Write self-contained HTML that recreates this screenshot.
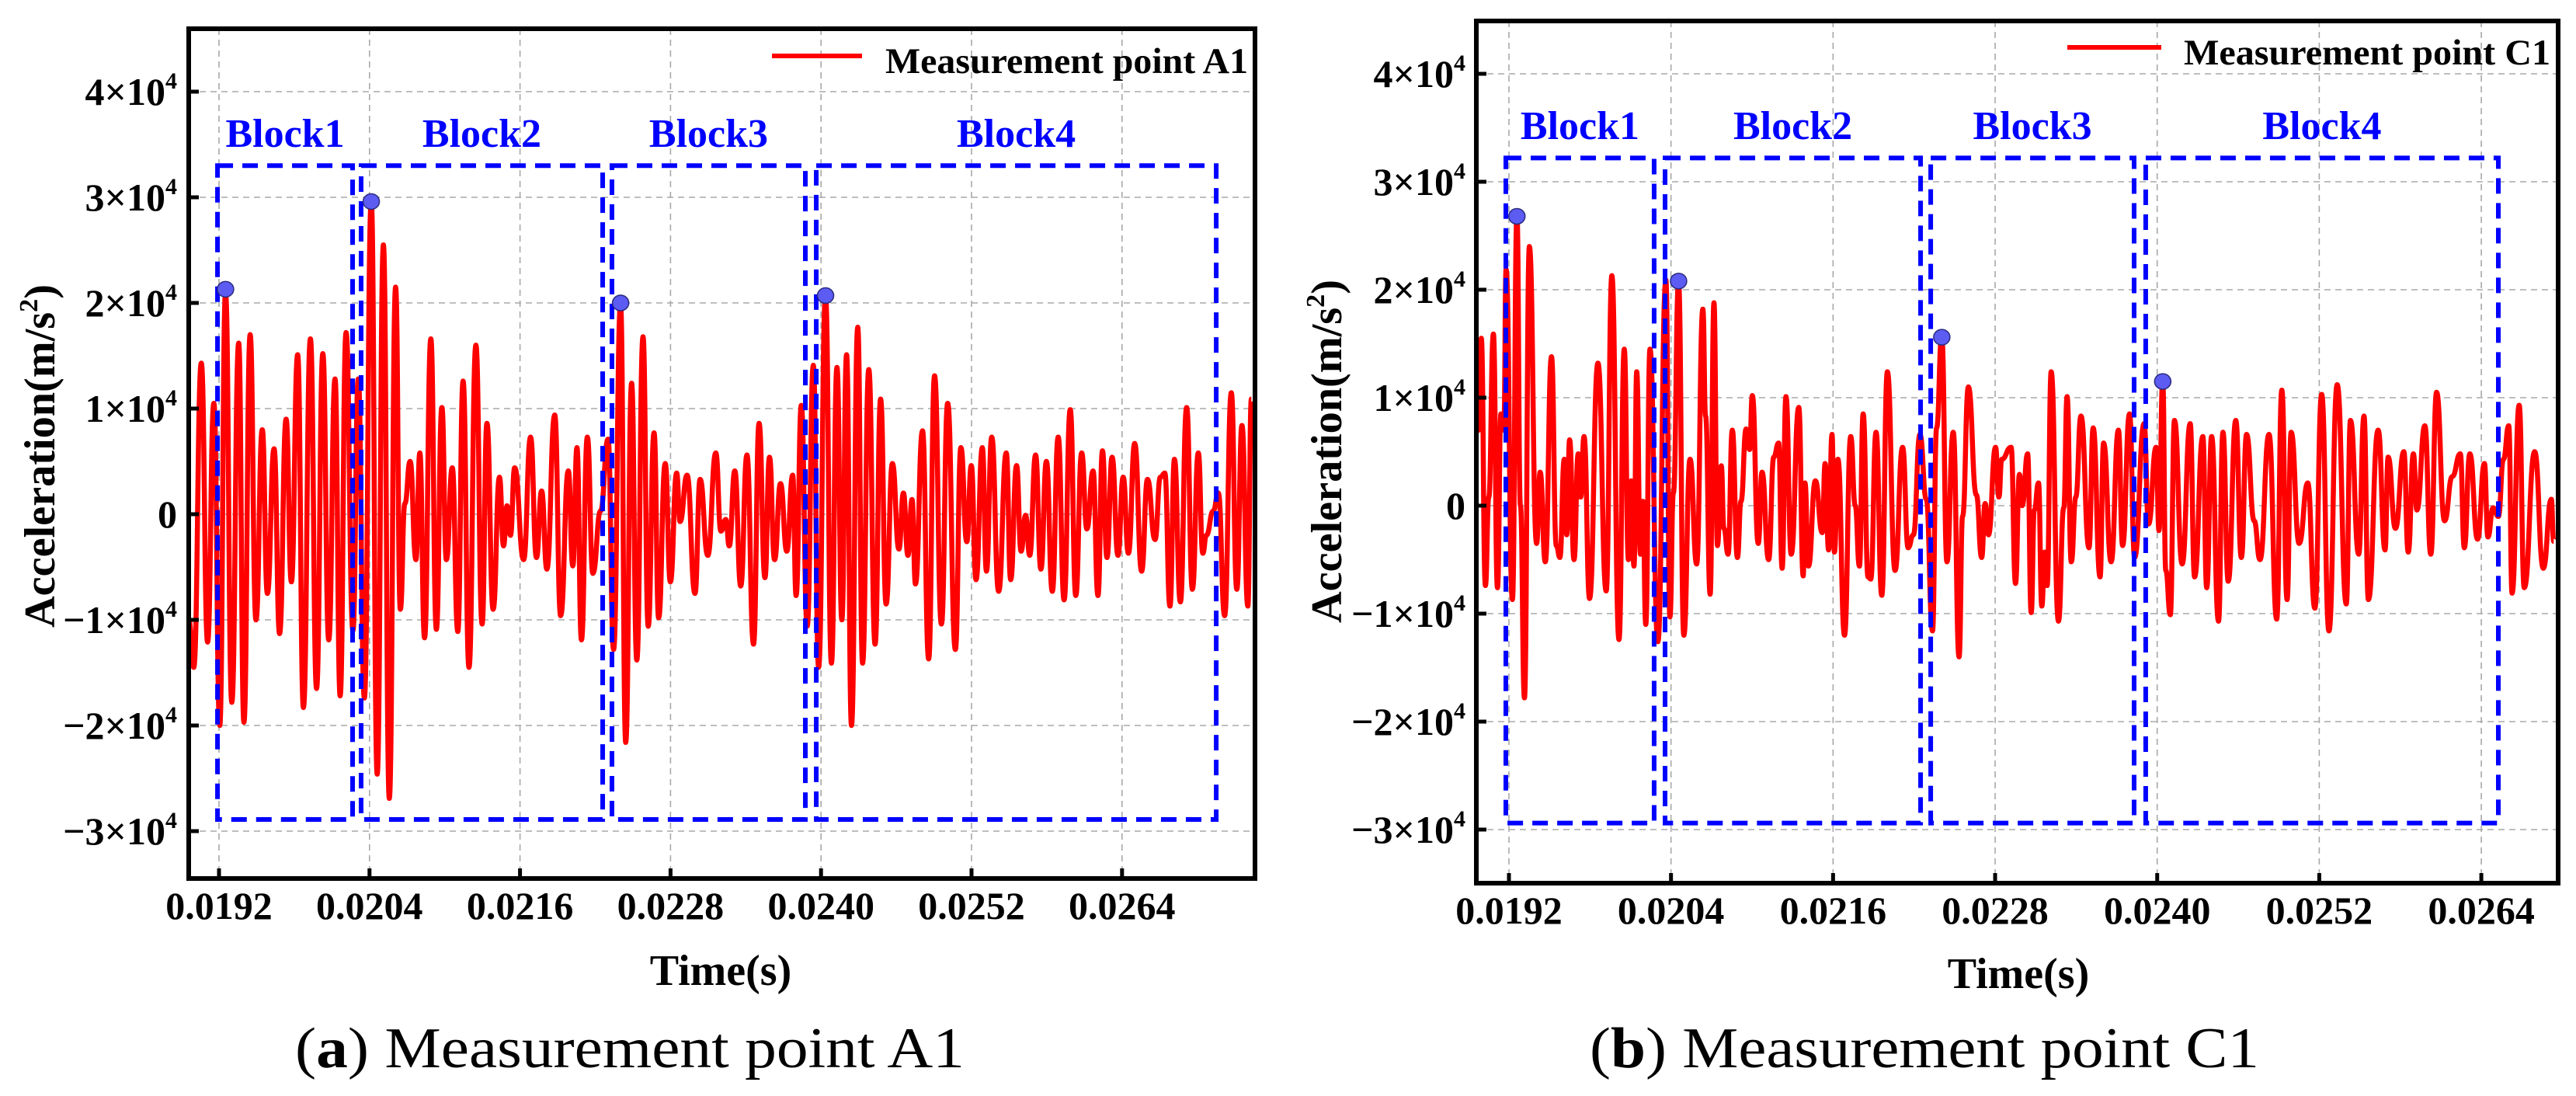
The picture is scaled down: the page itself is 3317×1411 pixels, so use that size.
<!DOCTYPE html>
<html><head><meta charset="utf-8"><style>
html,body{margin:0;padding:0;background:#fff;}
svg{display:block;}
</style></head><body>
<svg id="fig" xmlns="http://www.w3.org/2000/svg" width="3317" height="1411" viewBox="0 0 3317 1411" font-family="'Liberation Serif', serif">
<rect x="0" y="0" width="3317" height="1411" fill="#fff"/>
</svg>
<script>
// ---- shared axis data ----
const xTicks = [19.2, 20.4, 21.6, 22.8, 24.0, 25.2, 26.4];            // ms
const xTickLabels = ["0.0192","0.0204","0.0216","0.0228","0.0240","0.0252","0.0264"];
const yTicks = [4, 3, 2, 1, 0, -1, -2, -3];                             // x1e4 m/s^2
const yTickLabels = ["4","3","2","1","0","\u22121","\u22122","\u22123"];
const blockNames = ["Block1","Block2","Block3","Block4"];

// ---- Measurement point A1 ----
const timesA = [18.96,18.999,19.059,19.109,19.159,19.206,19.252,19.302,19.357,19.399,19.448,19.495,19.545,19.586,19.639,19.683,19.735,19.777,19.827,19.873,19.929,19.978,20.028,20.075,20.125,20.166,20.213,20.268,20.310,20.359,20.414,20.461,20.511,20.558,20.608,20.646,20.682,20.724,20.770,20.801,20.839,20.889,20.933,20.977,21.013,21.060,21.104,21.146,21.193,21.248,21.298,21.336,21.386,21.436,21.469,21.496,21.524,21.557,21.629,21.684,21.731,21.772,21.814,21.877,21.924,21.985,22.021,22.054,22.090,22.137,22.181,22.242,22.302,22.346,22.402,22.443,22.490,22.531,22.581,22.622,22.669,22.705,22.758,22.799,22.849,22.876,22.932,22.995,23.036,23.097,23.161,23.202,23.241,23.268,23.313,23.360,23.409,23.462,23.506,23.553,23.589,23.630,23.677,23.727,23.774,23.801,23.843,23.890,23.939,23.981,24.036,24.083,24.127,24.166,24.204,24.243,24.293,24.331,24.381,24.431,24.475,24.519,24.569,24.621,24.657,24.693,24.726,24.753,24.809,24.858,24.905,24.960,25.010,25.071,25.115,25.162,25.198,25.236,25.286,25.319,25.361,25.416,25.477,25.512,25.559,25.595,25.631,25.664,25.711,25.753,25.797,25.844,25.891,25.938,25.987,26.031,26.078,26.120,26.169,26.208,26.244,26.280,26.321,26.368,26.409,26.451,26.501,26.556,26.603,26.663,26.705,26.741,26.782,26.818,26.865,26.915,26.961,27.008,27.044,27.072,27.127,27.168,27.218,27.271,27.315,27.356,27.403,27.431];
const valuesA = [-1.0,-1.45,1.43,-1.21,1.05,-2.0,2.1,-1.78,1.62,-1.97,1.7,-1.0,0.8,-0.75,0.62,-1.13,0.9,-0.64,1.51,-1.83,1.66,-1.65,1.52,-1.19,1.28,-1.72,1.72,-1.1,1.28,-1.74,2.96,-2.46,2.55,-2.69,2.15,-0.9,0.1,0.5,-0.43,0.58,-1.17,1.66,-1.09,1.01,-0.43,0.44,-1.11,1.26,-1.45,1.6,-1.04,0.86,-0.9,0.35,-0.3,0.08,-0.2,0.44,-0.43,0.73,-0.41,0.22,-0.52,0.94,-0.96,0.41,-0.49,0.63,-1.19,0.73,-0.56,0.03,0.71,-1.28,1.99,-2.16,1.24,-1.38,1.68,-1.06,0.77,-0.98,0.48,-0.64,0.39,-0.07,0.37,-0.75,0.33,-0.39,0.58,-0.16,-0.05,-0.3,0.41,-0.68,0.56,-1.23,0.86,-0.6,0.54,-0.43,0.29,-0.35,0.37,-0.77,1.03,-1.06,1.41,-1.45,2.07,-1.41,1.39,-1.0,1.51,-2.0,1.77,-1.41,1.37,-1.23,1.09,-0.85,0.48,-0.33,0.2,-0.39,0.14,-0.66,0.79,-1.37,1.31,-1.04,1.05,-1.28,0.63,-0.26,0.46,-0.62,0.63,-0.54,0.73,-0.73,0.58,-0.62,0.46,-0.35,-0.01,-0.39,0.56,-0.52,0.5,-0.73,0.73,-0.81,0.99,-0.77,0.58,-0.14,0.41,-0.77,0.6,-0.41,0.54,-0.39,0.35,-0.37,0.67,-0.54,0.33,-0.24,0.35,0.39,-0.87,0.52,-0.83,1.01,-0.71,0.58,-0.37,-0.2,0.03,0.2,-0.96,1.15,-0.71,0.84,-0.87,1.09];
const peakTimesA = [19.252, 20.414, 22.402, 24.036];
const peakValuesA = [2.13, 2.96, 2.0, 2.07];
const blockStartA = [19.188, 20.333, 22.333, 23.962];
const blockEndA   = [20.265, 22.259, 23.875, 27.151];
const blockTopA = 3.30, blockBottomA = -2.89;

// ---- Measurement point C1 ----
const timesC = [18.96,18.977,18.995,19.026,19.051,19.085,19.115,19.141,19.162,19.179,19.226,19.259,19.285,19.315,19.351,19.405,19.431,19.469,19.515,19.551,19.577,19.610,19.628,19.649,19.682,19.713,19.731,19.756,19.797,19.859,19.920,19.962,20.015,20.054,20.085,20.105,20.126,20.146,20.174,20.192,20.213,20.244,20.303,20.362,20.392,20.418,20.456,20.495,20.541,20.590,20.636,20.656,20.690,20.718,20.744,20.772,20.792,20.823,20.854,20.892,20.918,20.956,20.982,21.002,21.046,21.074,21.123,21.161,21.197,21.223,21.251,21.290,21.346,21.379,21.392,21.418,21.469,21.520,21.541,21.567,21.592,21.610,21.636,21.685,21.731,21.764,21.795,21.823,21.859,21.879,21.918,21.961,22.002,22.059,22.115,22.156,22.195,22.243,22.290,22.336,22.367,22.405,22.443,22.490,22.533,22.559,22.602,22.661,22.700,22.726,22.751,22.803,22.828,22.849,22.918,22.951,22.980,23.000,23.041,23.067,23.090,23.121,23.146,23.167,23.185,23.215,23.269,23.308,23.333,23.364,23.397,23.436,23.495,23.526,23.577,23.603,23.659,23.713,23.744,23.795,23.833,23.903,23.936,23.992,24.013,24.041,24.064,24.097,24.128,24.185,24.244,24.277,24.338,24.367,24.403,24.454,24.487,24.526,24.582,24.623,24.662,24.718,24.761,24.828,24.885,24.923,24.962,24.992,25.051,25.115,25.167,25.218,25.272,25.333,25.400,25.431,25.492,25.531,25.564,25.636,25.687,25.710,25.764,25.826,25.859,25.897,25.923,25.982,26.026,26.069,26.128,26.185,26.244,26.274,26.315,26.372,26.423,26.449,26.487,26.526,26.564,26.603,26.628,26.680,26.718,26.795,26.859,26.918,26.936];
const valuesC = [0.7,0.7,1.55,-0.74,0.08,1.59,-0.76,0.85,0.7,2.19,-0.87,2.69,0,-1.78,2.4,-0.35,0.31,-0.52,1.38,-0.37,-0.48,0.43,-0.27,0.61,-0.5,0.48,0.08,0.64,-0.86,1.32,-0.79,2.13,-1.24,1.45,-0.5,0.23,-0.56,1.24,-0.45,0.04,-1.1,1.45,-1.26,2.09,-1.03,0.12,2.07,-1.2,0.43,-0.54,1.82,0.83,-0.82,1.88,-0.37,0.37,-0.21,-0.45,0.7,-0.48,0.04,0.71,0.52,1.02,-0.35,0.31,-0.5,0.45,0.58,-0.58,1.01,-0.45,0.91,-0.65,0.21,-0.56,0.23,-0.25,0.39,-0.41,0.66,-0.43,0.43,-1.2,0.64,0,-0.56,0.85,-0.66,-0.68,0.68,-0.83,1.24,-0.6,0.54,-0.39,-0.27,0.66,0.06,-1.16,0.72,1.57,-0.52,0.68,-1.4,-0.1,1.1,0.1,-0.48,0.02,-0.27,0.54,0.08,0.43,0.54,-0.72,0.29,0,0.48,-0.99,-0.04,0.21,-0.93,-0.43,-0.74,1.24,-1.07,-0.02,1.01,-0.52,0.08,0.83,-0.39,0.72,-0.66,0.58,-0.52,0.7,-0.37,0.85,-0.48,0.76,-0.17,0.54,-0.23,1.16,-0.6,-1.01,0.79,-0.54,0.76,-0.66,0.64,-0.76,0.64,-1.07,0.68,-0.7,0.79,-0.48,0.66,-0.14,-0.5,0.66,-1.05,1.07,-0.87,0.68,-0.35,0.21,-0.95,1.03,-1.16,1.12,-0.91,0.79,-0.45,0.83,-0.87,0.7,-0.41,0.45,-0.21,0.5,-0.43,0.48,-0.04,0.74,-0.45,1.05,-0.14,0.27,0.48,-0.39,0.48,-0.31,0.39,-0.29,-0.02,-0.1,0.43,0.74,-0.81,0.93,-0.76,0.5,-0.58,0.06,-0.33];
const peakTimesC = [19.259, 20.456, 22.405, 24.041];
const peakValuesC = [2.68, 2.08, 1.56, 1.15];
const blockStartC = [19.177, 20.356, 22.323, 23.915];
const blockEndC   = [20.275, 22.248, 23.829, 26.526];
const blockTopC = 3.22, blockBottomC = -2.94;

const NS = "http://www.w3.org/2000/svg";
const fig = document.getElementById("fig");
function mk(tag, attrs, parent, text){
  const e = document.createElementNS(NS, tag);
  for (const k in attrs) e.setAttribute(k, attrs[k]);
  if (text !== undefined) e.textContent = text;
  (parent || fig).appendChild(e);
  return e;
}

function drawPanel(cfg){
  const g = mk("g", {});
  
  
  const X = t => cfg.x0px + (t - 19.2) * cfg.pxPerMs;
  const Y = v => cfg.y0px - v * cfg.pxPerUnit;
  const L = cfg.left, R = cfg.right, T = cfg.top, B = cfg.bottom;
  const clipId = cfg.id + "-clip";
  const defs = mk("defs", {}, g);
  const cp = mk("clipPath", {id: clipId}, defs);
  mk("rect", {x: L, y: T, width: R - L, height: B - T}, cp);

  // grid
  yTicks.forEach((v, i) => {
    const ln = mk("line", {x1: L, x2: R, y1: Y(v), y2: Y(v), stroke: "#a8a8a8", "stroke-width": 1.6, "stroke-dasharray": "8 6"}, g);
    
    
  });
  xTicks.forEach((t, i) => {
    const ln = mk("line", {x1: X(t), x2: X(t), y1: T, y2: B, stroke: "#a8a8a8", "stroke-width": 1.6, "stroke-dasharray": "8 6"}, g);
    
    
  });

  // signal
  const ts = cfg.times, vs = cfg.values;
  let d = "M" + X(ts[0]).toFixed(1) + "," + Y(vs[0]).toFixed(1);
  for (let i = 1; i < ts.length; i++){
    const x0 = X(ts[i-1]), y0 = Y(vs[i-1]), x1 = X(ts[i]), y1 = Y(vs[i]);
    const dx = (x1 - x0) / 2;
    d += " C" + (x0+dx).toFixed(1) + "," + y0.toFixed(1) + " " + (x1-dx).toFixed(1) + "," + y1.toFixed(1) + " " + x1.toFixed(1) + "," + y1.toFixed(1);
  }
  const line = mk("path", {d: d, fill: "none", stroke: "#ff0000", "stroke-width": 6.5, "stroke-linejoin": "round", "clip-path": "url(#" + clipId + ")"}, g);
  
  

  // blocks
  for (let i = 0; i < blockNames.length; i++){
    const x1 = X(cfg.bStart[i]), x2 = X(cfg.bEnd[i]);
    const r = mk("rect", {x: x1, y: Y(cfg.bTop), width: x2 - x1, height: Y(cfg.bBottom) - Y(cfg.bTop), fill: "none", stroke: "#0000ff", "stroke-width": 6, "stroke-dasharray": "20 12"}, g);
    
    
    const tx = mk("text", {x: (x1 + x2) / 2, y: cfg.blockLabelY, "text-anchor": "middle", "font-size": 52, "font-weight": "bold", fill: "#0000ff"}, g, blockNames[i]);
    
    
  }

  // peak markers
  for (let i = 0; i < cfg.peakT.length; i++){
    const m = mk("ellipse", {cx: X(cfg.peakT[i]), cy: Y(cfg.peakV[i]), rx: 10.5, ry: 10, fill: "#5c5cf2", stroke: "#2a2a80", "stroke-width": 1.5}, g);
    
    
  }

  // frame
  const fr = mk("rect", {x: L, y: T, width: R - L, height: B - T, fill: "none", stroke: "#000", "stroke-width": 6}, g);
  
  

  // ticks + labels
  xTicks.forEach((t, i) => {
    const tk = mk("line", {x1: X(t), x2: X(t), y1: B, y2: B - 13, stroke: "#000", "stroke-width": 5}, g);
    
    
    const lb = mk("text", {x: X(t), y: B + 52, "text-anchor": "middle", "font-size": 50, "font-weight": "bold"}, g, xTickLabels[i]);
    
    
  });
  yTicks.forEach((v, i) => {
    const tk = mk("line", {x1: L, x2: L + 13, y1: Y(v), y2: Y(v), stroke: "#000", "stroke-width": 5}, g);
    
    
    const lb = mk("text", {x: cfg.yLabelRight, y: Y(v) + 17, "text-anchor": "end", "font-size": 50, "font-weight": "bold"}, g);
    
    
    if (v === 0) { lb.textContent = "0"; }
    else {
      mk("tspan", {}, lb, yTickLabels[i] + "\u00d710");
      mk("tspan", {"font-size": 30, dy: -21}, lb, "4");
    }
  });

  // axis titles
  const yt = mk("text", {x: 0, y: 0, transform: "translate(" + cfg.yTitleX + "," + cfg.yTitleY + ") rotate(-90)", "text-anchor": "middle", "font-size": 56, "font-weight": "bold", textLength: 442, lengthAdjust: "spacingAndGlyphs"}, g);
  
  
  mk("tspan", {}, yt, "Acceleration(m/s");
  mk("tspan", {"font-size": 34, dy: -22}, yt, "2");
  mk("tspan", {dy: 22}, yt, ")");
  const xt = mk("text", {x: cfg.xTitleX, y: cfg.xTitleY, "text-anchor": "middle", "font-size": 56, "font-weight": "bold"}, g, "Time(s)");
  
  

  // legend
  const lg = mk("g", {}, g);
  
  
  mk("line", {x1: cfg.legLineX1, x2: cfg.legLineX2, y1: cfg.legY, y2: cfg.legY, stroke: "#ff0000", "stroke-width": 6}, lg);
  mk("text", {x: cfg.legTextX, y: cfg.legY + 22, "font-size": 47, "font-weight": "bold", textLength: cfg.legTextLen, lengthAdjust: "spacingAndGlyphs"}, lg, cfg.legendText);

  // caption
  const cap = mk("text", {x: cfg.capX, y: 1374, "text-anchor": "middle", "font-size": 74, textLength: 862, lengthAdjust: "spacingAndGlyphs"}, g);
  
  
  mk("tspan", {}, cap, "(");
  mk("tspan", {"font-weight": "bold"}, cap, cfg.capLetter);
  mk("tspan", {}, cap, ") " + cfg.legendText);
}

drawPanel({
  id: "a1", times: timesA, values: valuesA, peakT: peakTimesA, peakV: peakValuesA,
  bStart: blockStartA, bEnd: blockEndA, bTop: blockTopA, bBottom: blockBottomA,
  left: 243, right: 1616, top: 37, bottom: 1131,
  x0px: 282, pxPerMs: 161.5, y0px: 662, pxPerUnit: 136,
  blockLabelY: 189, yLabelRight: 228, yTitleX: 70, yTitleY: 587,
  xTitleX: 928, xTitleY: 1268,
  legLineX1: 994, legLineX2: 1110, legY: 72, legTextX: 1140, legTextLen: 467,
  legendText: "Measurement point A1", capX: 811, capLetter: "a"
});
drawPanel({
  id: "c1", times: timesC, values: valuesC, peakT: peakTimesC, peakV: peakValuesC,
  bStart: blockStartC, bEnd: blockEndC, bTop: blockTopC, bBottom: blockBottomC,
  left: 1901, right: 3294, top: 27, bottom: 1137,
  x0px: 1943, pxPerMs: 173.9, y0px: 651, pxPerUnit: 139,
  blockLabelY: 179, yLabelRight: 1887, yTitleX: 1727, yTitleY: 581,
  xTitleX: 2599, xTitleY: 1272,
  legLineX1: 2662, legLineX2: 2783, legY: 61, legTextX: 2812, legTextLen: 472,
  legendText: "Measurement point C1", capX: 2478, capLetter: "b"
});
</script>
</body></html>
